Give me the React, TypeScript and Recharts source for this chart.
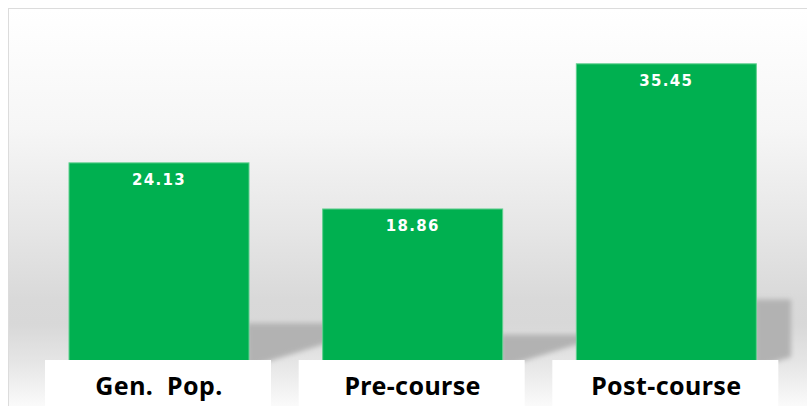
import React from "react";
import { BarChart, Bar, XAxis, YAxis, LabelList } from "recharts";

const categories = ["Gen.  Pop.", "Pre-course", "Post-course"];
const values = [24.13, 18.86, 35.45];
const data = categories.map((c, i) => ({ name: c, value: values[i] }));

const W = 807;
const H = 406;
const M = { top: 24, right: 14, left: 32, bottom: 32 };
const GREEN = "#00b050";

const ShadowBar = (props: any) => {
  const { x, y, width, height } = props;
  const base = y + height;
  const ys = base - height * 0.24;
  const right = x + width;
  const far = Math.min(right + 85, W - M.right - 2);
  const t = (far - right) / 85;
  return (
    <g>
      <polygon
        points={`${right - 2},${ys} ${far},${ys} ${far},${base - 6 - 27 * t} ${right - 2},${base - 6}`}
        fill="#b2b2b2"
        filter="url(#shBlur)"
      />
      <rect x={x} y={y} width={width} height={height} fill={GREEN} stroke="#5fcf8e" strokeWidth={1} />
    </g>
  );
};

const ValueLabel = (props: any) => {
  const { x, y, width, value } = props;
  return (
    <text
      x={x + width / 2}
      y={y + 22}
      textAnchor="middle"
      fill="#ffffff"
      fontFamily="'DejaVu Sans', sans-serif"
      fontWeight="bold"
      fontSize={15}
      letterSpacing={1.3}
    >
      {Number(value).toFixed(2)}
    </text>
  );
};

const CatBox = (props: any) => {
  const { x, y, width, height, value } = props;
  const cx = x + width / 2;
  const bottom = y + height;
  return (
    <g>
      <rect x={cx - 114} y={bottom - 14} width={226} height={60} fill="#ffffff" />
      <text
        x={cx}
        y={bottom + 21}
        textAnchor="middle"
        fill="#000000"
        fontFamily="'Noto Sans', sans-serif"
        fontWeight="bold"
        fontSize={25}
        letterSpacing={0.4}
        style={{ whiteSpace: "pre" }}
      >
        {value}
      </text>
    </g>
  );
};

export default function App() {
  return (
    <div style={{ position: "absolute", left: 0, top: 0, width: W, height: H, overflow: "hidden", background: "#ffffff" }}>
      <div
        style={{
          position: "absolute",
          left: 8,
          top: 8,
          width: W,
          height: H,
          border: "1.5px solid #dcdcdc",
          background:
            "linear-gradient(to bottom, #ffffff 0px, #f6f6f6 120px, #e6e6e6 220px, #d9d9d9 290px, #d8d8d8 315px, #e6e6e6 355px, #fbfbfb 398px)",
        }}
      />
      <div style={{ position: "absolute", left: 0, top: 0 }}>
        <BarChart width={W} height={H} data={data} margin={M} barSize={180}>
          <defs>
            <filter id="shBlur" x="-20%" y="-20%" width="140%" height="140%">
              <feGaussianBlur stdDeviation="2.5" />
            </filter>
          </defs>
          <XAxis dataKey="name" hide />
          <YAxis hide domain={[0, 40]} />
          <Bar dataKey="value" fill={GREEN} isAnimationActive={false} shape={<ShadowBar />}>
            <LabelList dataKey="value" content={<ValueLabel />} />
            <LabelList dataKey="name" content={<CatBox />} />
          </Bar>
        </BarChart>
      </div>
    </div>
  );
}
